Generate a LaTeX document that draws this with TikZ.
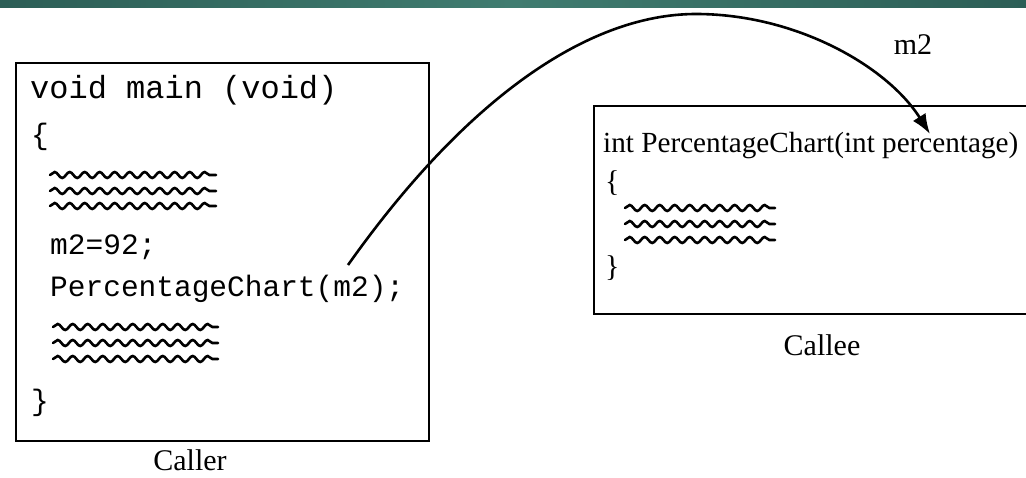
\documentclass[tikz,border=0pt]{standalone}
\usepackage{fontspec}
\setmainfont{Liberation Serif}
\setmonofont{Liberation Mono}
\usetikzlibrary{decorations.pathmorphing,arrows.meta}
\definecolor{hdrA}{RGB}{44,94,86}
\definecolor{hdrB}{RGB}{64,124,112}
\begin{document}
\begin{tikzpicture}[x=1pt,y=-1pt,
  box/.style={draw, line width=2.4pt, inner sep=0pt, anchor=north west},
  codebig/.style={font=\ttfamily\fontsize{32}{34}\selectfont, anchor=base west, inner sep=0pt},
  code/.style={font=\ttfamily\fontsize{29.5}{31}\selectfont, anchor=base west, inner sep=0pt},
  serif/.style={font=\fontsize{30}{32}\selectfont, inner sep=0pt},
  serifl/.style={font=\fontsize{30}{32}\selectfont, inner sep=0pt, anchor=base west},
  wave/.style={line width=2.6pt, line cap=round, decorate, decoration={snake, segment length=15pt, amplitude=3pt}},
  link/.style={line width=2.6pt, -{Latex[length=20pt,width=15pt]}}]
\useasboundingbox (0,0) rectangle (1026,478);
\clip (0,0) rectangle (1026,478);
\shade[left color=hdrA, right color=hdrA, middle color=hdrB] (0,0) rectangle (1026,7.5);
% caller
\node[box, minimum width=413pt, minimum height=378pt] (callerbox) at (15,62) {};
\node[codebig] (l1) at (30,99) {void main (void)};
\node[code] (l2) at (31,145) {\{};
\draw[wave] (50,175) -- (216,175);
\draw[wave] (50,191) -- (216,191);
\draw[wave] (50,206) -- (216,206);
\node[code] (l3) at (50,255) {m2=92;};
\node[code] (l4) at (50,297) {PercentageChart(m2);};
\draw[wave] (53,327) -- (218,327);
\draw[wave] (53,343) -- (218,343);
\draw[wave] (53,359) -- (218,359);
\node[code] (l5) at (31,410) {\}};
\node[serif] (caller) at (190,460) {Caller};
% callee
\node[box, minimum width=450pt, minimum height=208pt] (calleebox) at (593,105) {};
\node[serifl, font=\fontsize{29.2}{31}\selectfont] (t1) at (603,153) {int PercentageChart(int percentage)};
\node[serifl] (t2) at (605,192) {\{};
\draw[wave] (625,208) -- (775,208);
\draw[wave] (625,224) -- (775,224);
\draw[wave] (625,240) -- (775,240);
\node[serifl] (t3) at (605,277) {\}};
\node[serif] (callee) at (822,345) {Callee};
% connector
\coordinate (src) at (348,265);
\coordinate (apex) at (696,14);
\coordinate (dst) at (930,134);
\draw[link] (src) .. controls (463.6,101.8) and (586,14) .. (apex) .. controls (796,14) and (887.4,66.3) .. (dst);
\node[serif] (lbl) at (913,45) {m2};
\end{tikzpicture}
\end{document}
